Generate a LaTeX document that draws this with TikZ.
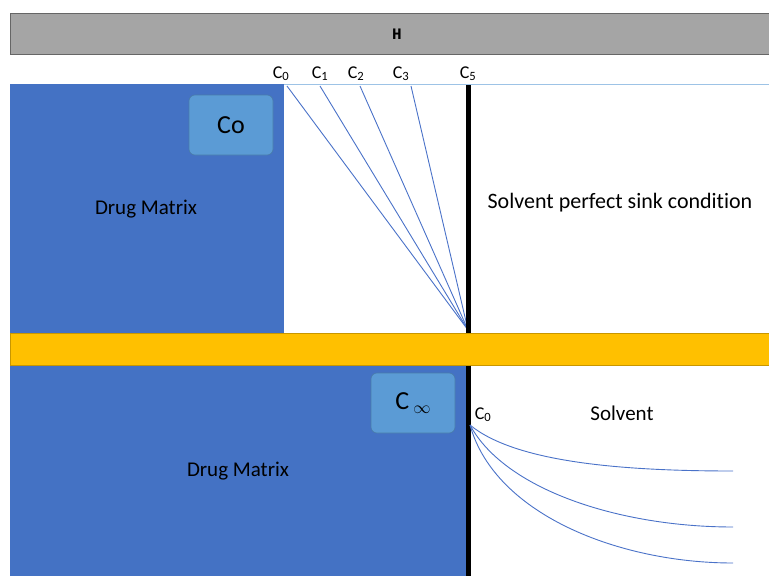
\documentclass[tikz,border=0pt]{standalone}
\usepackage{fontspec}
\setmainfont{Carlito}[Ligatures=NoCommon]
\newfontfamily\hfont{Liberation Mono}
\definecolor{matblue}{HTML}{4472C4}
\definecolor{boxblue}{HTML}{5B9BD5}
\definecolor{barorange}{HTML}{FFC000}
\definecolor{barorangedk}{HTML}{C89600}
\definecolor{hgray}{HTML}{A5A5A5}
\definecolor{linblue}{HTML}{4A72C8}
\tikzset{
  conc/.style={draw=boxblue!80!black, line width=0.6pt, fill=boxblue, rounded corners=6pt, minimum width=84pt, minimum height=60pt, font=\fontsize{26}{28}\selectfont},
  lbl/.style={font=\fontsize{21}{23}\selectfont, inner sep=0pt},
  clbl/.style={font=\fontsize{18}{19}\selectfont, inner sep=0pt, anchor=base},
  prof/.style={draw=linblue, line width=0.9pt},
}
\begin{document}
\begin{tikzpicture}[x=1pt,y=-1pt]
\useasboundingbox (0,0) rectangle (769,576);
% header bar
\fill[hgray] (10,13) rectangle (769,54);
\draw[gray!80!black, line width=1pt] (10,13) -- (769,13);
\draw[gray!80!black, line width=1pt] (10,54) -- (769,54);
\draw[gray!80!black, line width=1pt] (10,13) -- (10,54);
\node[font=\hfont\bfseries\fontsize{16}{17}\selectfont] (H) at (397,34) {H};
% top region
\fill[matblue] (10,84) rectangle (284,333);
\draw[boxblue!60!white, line width=1.2pt] (284,84.5) -- (769,84.5);
\coordinate (sink) at (468,330);
\coordinate (t0) at (287,86);
\coordinate (t1) at (320,86);
\coordinate (t2) at (360,86);
\coordinate (t3) at (411,86);
\foreach \p in {t0,t1,t2,t3} \draw[prof] (\p) -- (sink);
\draw[black, line width=5pt] (468,85) -- (468,333);
\node[clbl] (c0) at (281,78) {C\textsubscript{0}};
\node[clbl] (c1) at (320,78) {C\textsubscript{1}};
\node[clbl] (c2) at (356,78) {C\textsubscript{2}};
\node[clbl] (c3) at (401,78) {C\textsubscript{3}};
\node[clbl] (c5) at (468,78) {C\textsubscript{5}};
\node[conc] (Co) at (231,125) {Co};
\node[lbl] (dm1) at (146,209) {Drug Matrix};
\node[lbl, font=\fontsize{22}{24}\selectfont] (sps) at (620,203) {Solvent perfect sink condition};
% orange bar
\fill[barorange] (10,333) rectangle (769,365);
\draw[barorangedk, line width=0.8pt] (10,333) -- (769,333);
\draw[barorangedk, line width=0.8pt] (10,365) -- (769,365);
\draw[barorangedk, line width=0.8pt] (10,333) -- (10,365);
% bottom region
\fill[matblue] (10,365.5) rectangle (466,576);
\draw[black, line width=5pt] (468,365.5) -- (468,576);
\node[conc] (Cinf) at (413,403) {C\,\raisebox{-4pt}{\fontsize{18}{19}\selectfont$\mathbf{\infty}$}};
\node[lbl] (dm2) at (238,471) {Drug Matrix};
\node[clbl] (c0b) at (483,419) {C\textsubscript{0}};
\node[lbl] (solv) at (622,413) {Solvent};
\coordinate (s0) at (470,425);
\coordinate (e1) at (733,471);
\coordinate (e2) at (733,527);
\coordinate (e3) at (733,563);
\draw[prof] (s0) .. controls (515,462) and (620,471) .. (e1);
\draw[prof] (s0) .. controls (505,490) and (620,527) .. (e2);
\draw[prof] (s0) .. controls (495,515) and (620,563) .. (e3);
\end{tikzpicture}
\end{document}
